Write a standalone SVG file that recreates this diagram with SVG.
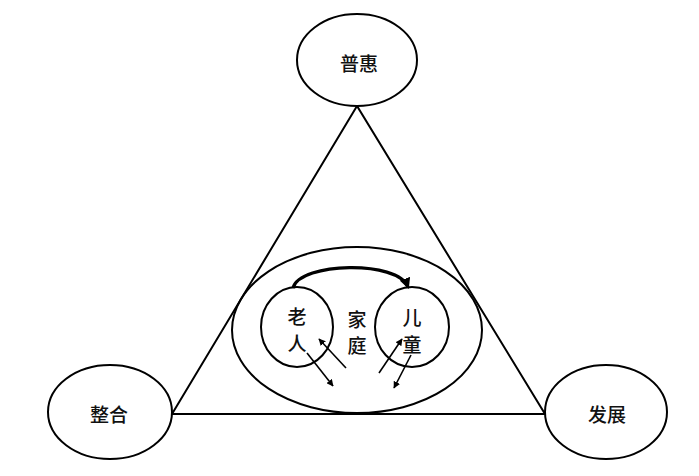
<svg xmlns="http://www.w3.org/2000/svg" width="699" height="476" viewBox="0 0 699 476">
<style>
.sh{fill:none;stroke:#000;stroke-width:2}
.nf{fill:#fff;stroke:#000;stroke-width:2}
.t{font-family:"Noto Sans CJK SC","Noto Sans",sans-serif;font-size:19px;font-weight:500;fill:#111;text-anchor:middle;dominant-baseline:central}
.ar{stroke:#000;stroke-width:1.6;fill:none;marker-end:url(#ah)}
</style>
<defs>
<marker id="ah" viewBox="0 0 10 10" refX="9" refY="5" markerWidth="7" markerHeight="7" markerUnits="userSpaceOnUse" orient="auto"><path d="M0,0 L10,5 L0,10 z" fill="#000"/></marker>
<marker id="ah2" viewBox="0 0 10 10" refX="8" refY="5" markerWidth="11" markerHeight="11" markerUnits="userSpaceOnUse" orient="auto"><path d="M0,0 L10,5 L0,10 z" fill="#000"/></marker>
</defs>
<rect width="699" height="476" fill="#fff"/>
<g id="connectors">
<polygon class="sh" points="357,106 172,414 545,414"/>
</g>
<g id="puhui"><ellipse class="nf" cx="357" cy="60" rx="60" ry="46"/><text class="t" x="359" y="62">普惠</text></g>
<g id="zhenghe"><ellipse class="nf" cx="110" cy="412" rx="62" ry="47"/><text class="t" x="109" y="413">整合</text></g>
<g id="fazhan"><ellipse class="nf" cx="606" cy="412" rx="61" ry="47"/><text class="t" x="607" y="413">发展</text></g>
<g id="jiating"><ellipse class="sh" cx="357" cy="330" rx="125" ry="83"/><text class="t" x="357" y="318">家</text><text class="t" x="357" y="344">庭</text></g>
<g id="laoren"><ellipse class="sh" cx="297" cy="327" rx="36" ry="40"/><text class="t" x="297" y="315">老</text><text class="t" x="297" y="342">人</text></g>
<g id="ertong"><ellipse class="sh" cx="412" cy="327" rx="37" ry="40"/><text class="t" x="412" y="316">儿</text><text class="t" x="412" y="343">童</text></g>
<g id="arrows">
<path d="M293,288 C300,262 398,260 408,287" fill="none" stroke="#000" stroke-width="3.2" marker-end="url(#ah2)"/>
<line class="ar" x1="307" y1="353" x2="333" y2="386"/>
<line class="ar" x1="346" y1="368" x2="319" y2="339"/>
<line class="ar" x1="379" y1="373" x2="402" y2="339"/>
<line class="ar" x1="411" y1="355" x2="394" y2="388"/>
</g>
</svg>
